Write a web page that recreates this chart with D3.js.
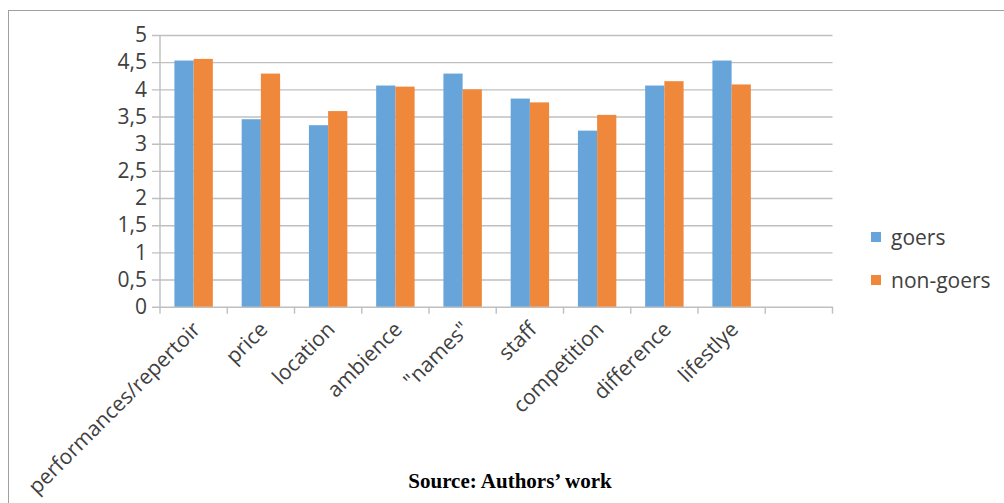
<!DOCTYPE html>
<html>
<head>
<meta charset="utf-8">
<script src="https://cdn.jsdelivr.net/npm/d3@7"></script>
<style>
  html, body { margin: 0; padding: 0; background: #fff; }
  svg { display: block; }
</style>
</head>
<body>
<svg id="chart" width="1004" height="503"></svg>
<script>
// Mean ratings per attribute, theatre goers vs non-goers
const categories = ["performances/repertoir", "price", "location", "ambience", "\"names\"", "staff", "competition", "difference", "lifestlye", ""];
const goers    = [4.53, 3.45, 3.34, 4.07, 4.29, 3.83, 3.24, 4.07, 4.53, null];
const nonGoers = [4.56, 4.29, 3.60, 4.05, 4.00, 3.76, 3.53, 4.15, 4.09, null];
const seriesNames = ["goers", "non-goers"];
const yTicks = [0, 0.5, 1, 1.5, 2, 2.5, 3, 3.5, 4, 4.5, 5];

const colors = ["#67a4da", "#f0883b"];
const font = "'Open Sans', 'Liberation Sans', sans-serif";
const fontSize = 21;
const textColor = "#404040";
const gridColor = "#bfbfbf";

const svg = d3.select("#chart");

// outer frame
svg.append("rect")
  .attr("x", 8.5).attr("y", 10.5)
  .attr("width", 1004).attr("height", 503)
  .attr("fill", "none").attr("stroke", "#a0a0a0").attr("stroke-width", 1);

const plot = { left: 160, right: 832.5, top: 35, bottom: 306.7 };

const x = d3.scaleBand()
  .domain(d3.range(categories.length))
  .range([plot.left, plot.right])
  .paddingInner(0).paddingOuter(0);

const y = d3.scaleLinear().domain([0, 5]).range([plot.bottom, plot.top]);

const fmt = v => String(v).replace(".", ",");

// horizontal gridlines with left tick stubs
const yAxis = d3.axisLeft(y).tickValues(yTicks).tickFormat(fmt)
  .tickSize(-(plot.right - plot.left)).tickPadding(14);
const gy = svg.append("g").attr("transform", `translate(${plot.left},0)`).call(yAxis);
gy.select(".domain").remove();
gy.selectAll(".tick line")
  .attr("x1", -8)
  .attr("stroke", gridColor).attr("stroke-width", 1.4);
gy.selectAll(".tick text")
  .attr("x", -13)
  .attr("font-family", font).attr("font-size", fontSize).attr("fill", textColor);

// vertical axis line
svg.append("line")
  .attr("x1", plot.left).attr("x2", plot.left)
  .attr("y1", y(5)).attr("y2", plot.bottom)
  .attr("stroke", gridColor).attr("stroke-width", 1.4);

// category tick marks at band boundaries
const boundaries = d3.range(categories.length + 1).map(i => plot.left + i * x.bandwidth());
svg.append("g").selectAll("line").data(boundaries).join("line")
  .attr("x1", d => d).attr("x2", d => d)
  .attr("y1", plot.bottom).attr("y2", plot.bottom + 7)
  .attr("stroke", gridColor).attr("stroke-width", 1.4);

// bars: two series per category, gap width 150%
const barW = x.bandwidth() / (2 + 1.5);
const series = [goers, nonGoers];
series.forEach((vals, s) => {
  svg.append("g").selectAll("rect")
    .data(vals.map((v, i) => ({ v, i })).filter(d => d.v != null))
    .join("rect")
    .attr("x", d => x(d.i) + x.bandwidth() / 2 - barW + s * barW)
    .attr("y", d => y(d.v))
    .attr("width", barW)
    .attr("height", d => y(0) - y(d.v))
    .attr("fill", colors[s]);
});

// rotated category labels
svg.append("g").selectAll("text")
  .data(categories.map((c, i) => ({ c, i })).filter(d => d.c !== ""))
  .join("text")
  .attr("transform", d => `translate(${x(d.i) + x.bandwidth() / 2 + 8},${plot.bottom + 24}) rotate(-45)`)
  .attr("text-anchor", "end")
  .attr("font-family", font).attr("font-size", fontSize).attr("fill", textColor)
  .text(d => d.c);

// legend
const legend = svg.append("g");
seriesNames.forEach((name, s) => {
  const ly = 232 + s * 43;
  legend.append("rect")
    .attr("x", 871).attr("y", ly).attr("width", 10).attr("height", 10)
    .attr("fill", colors[s]);
  legend.append("text")
    .attr("x", 891).attr("y", ly + 13)
    .attr("font-family", font).attr("font-size", fontSize).attr("fill", textColor)
    .text(name);
});

// source note
svg.append("text")
  .attr("x", 510).attr("y", 488)
  .attr("text-anchor", "middle")
  .attr("font-family", "'Liberation Serif', 'Times New Roman', serif")
  .attr("font-weight", "bold").attr("font-size", 21).attr("fill", "#000")
  .text("Source: Authors’ work");
</script>
</body>
</html>
